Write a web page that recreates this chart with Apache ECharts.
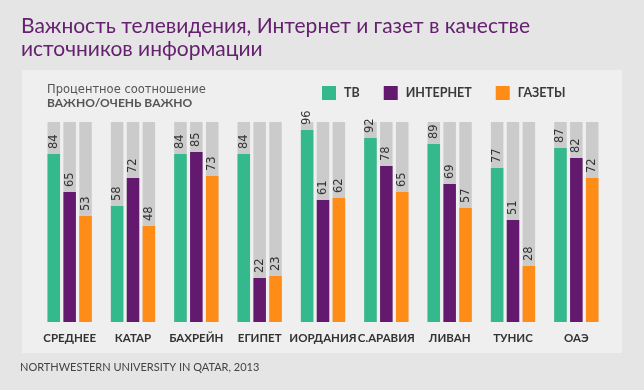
<!DOCTYPE html>
<html><head><meta charset="utf-8">
<script src="https://cdn.jsdelivr.net/npm/echarts@6/dist/echarts.min.js"></script>
<style>html,body{margin:0;padding:0;background:#e5e5e5;}#c{width:644px;height:390px;}</style>
</head><body><div id="c"></div>
<script>
const categories = ['СРЕДНЕЕ','КАТАР','БАХРЕЙН','ЕГИПЕТ','ИОРДАНИЯ','С.АРАВИЯ','ЛИВАН','ТУНИС','ОАЭ'];
const seriesNames = ['ТВ','ИНТЕРНЕТ','ГАЗЕТЫ'];
const tv = [84,58,84,84,96,92,89,77,87];
const internet = [65,72,85,22,61,78,69,51,82];
const newspapers = [53,48,73,23,62,65,57,28,72];
const colors = ['#33b98b','#62196e','#ff8c17'];

const chart = echarts.init(document.getElementById('c'));
const font = 'Lato';
function mk(name, data, color){
  return {
    name, type:'bar', data, barWidth:12.5, barGap:'27%',
    itemStyle:{color},
    showBackground:true, backgroundStyle:{color:'#cbcbcb'},
    label:{show:true, position:'top', rotate:90, align:'left', verticalAlign:'middle', distance:5,
      color:'#333', fontSize:11.5, fontFamily:'DejaVu Sans', fontWeight:500},
    animation:false
  };
}
chart.setOption({
  animation:false,
  backgroundColor:'#e5e5e5',
  graphic:[{type:'rect', shape:{x:22,y:70,width:600,height:283}, style:{fill:'#efefef'}, z:-10}],
  title:[
    {text:'Важность телевидения, Интернет и газет в качестве\nисточников информации', left:21, top:15, padding:0,
      textStyle:{color:'#65216f', fontSize:21, fontWeight:'normal', fontFamily:font, lineHeight:23}},
    {text:'Процентное соотношение', left:47, top:84, padding:0, textStyle:{color:'#555', fontSize:11.5, fontWeight:'normal', fontFamily:'DejaVu Sans'}},
    {text:'ВАЖНО/ОЧЕНЬ ВАЖНО', left:47, top:97, padding:0, textStyle:{color:'#555', fontSize:12, fontWeight:'bold', fontFamily:font}},
    {text:'NORTHWESTERN UNIVERSITY IN QATAR, 2013', left:20, top:362, padding:0, textStyle:{color:'#444', fontSize:11, fontWeight:'normal', fontFamily:font}}
  ],
  legend:{data:seriesNames, left:322, top:86, padding:0, icon:'rect', itemWidth:14, itemHeight:14, itemGap:24,
    textStyle:{color:'#3a3a3a', fontSize:12.5, fontFamily:font, fontWeight:'bold', padding:[0,0,0,3]}},
  grid:{left:38, width:570, top:122, bottom:68},
  xAxis:{type:'category', data:categories, axisLine:{show:false}, axisTick:{show:false},
    axisLabel:{interval:0, margin:10, color:'#333', fontSize:11.5, fontWeight:'bold', fontFamily:font}},
  yAxis:{type:'value', min:0, max:100, show:false, splitLine:{show:false}},
  series:[mk(seriesNames[0], tv, colors[0]), mk(seriesNames[1], internet, colors[1]), mk(seriesNames[2], newspapers, colors[2])]
});
</script></body></html>
